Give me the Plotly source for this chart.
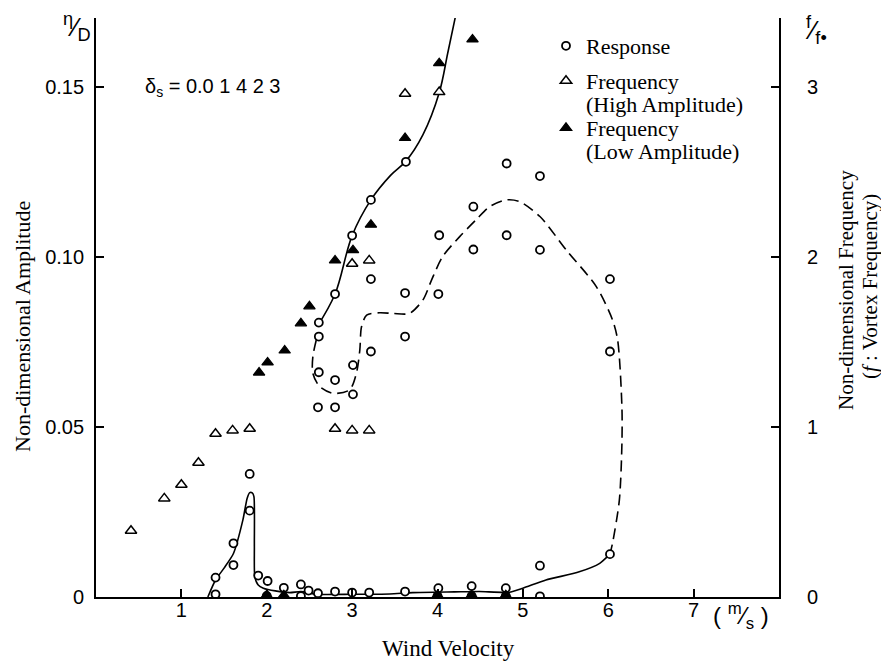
import plotly.graph_objects as go

# ---------------- data ----------------
# Response (left axis, eta/D)
resp_x = [1.40, 1.40, 1.61, 1.61, 1.80, 1.80, 1.90, 2.01, 2.20, 2.40, 2.49, 2.60, 2.80, 3.00, 3.20,
          2.60, 2.80, 2.61, 2.80, 3.01, 3.01, 3.22, 2.61, 2.61, 2.80, 3.00, 3.22, 3.22,
          3.63, 4.81, 5.20, 4.42, 4.02, 4.42, 4.81, 5.20, 6.02, 3.62, 4.01, 3.62, 6.02,
          3.62, 4.01, 4.40, 4.80, 5.20, 6.02,
          2.00, 2.40, 4.00, 4.40, 4.80, 5.20]
resp_y = [0.0008, 0.0057, 0.0094, 0.0158, 0.0254, 0.0362, 0.0063, 0.0047, 0.0027, 0.0037, 0.0019, 0.0011, 0.0016, 0.0013, 0.0013,
          0.0558, 0.0558, 0.0661, 0.0638, 0.0682, 0.0596, 0.0722, 0.0766, 0.0807, 0.0891, 0.1063, 0.0935, 0.1168,
          0.1280, 0.1275, 0.1238, 0.1148, 0.1064, 0.1022, 0.1064, 0.1021, 0.0935, 0.0894, 0.0891, 0.0766, 0.0722,
          0.0016, 0.0026, 0.0032, 0.0026, 0.0092, 0.0126,
          0.0003, 0.0003, 0.0003, 0.0003, 0.0003, 0.0002]

# Frequency, high amplitude (right axis, f/f0)
high_x = [0.41, 0.80, 1.00, 1.20, 1.40, 1.60, 1.80, 2.80, 3.00, 3.20, 3.00, 3.20, 3.62, 4.02]
high_f = [0.39, 0.58, 0.66, 0.79, 0.96, 0.98, 0.99, 0.99, 0.98, 0.98, 1.96, 1.98, 2.96, 2.97]

# Frequency, low amplitude (right axis, f/f0)
low_x = [1.91, 2.01, 2.21, 2.40, 2.50, 2.80, 3.01, 3.22, 3.62, 4.02, 4.41,
         2.00, 2.20, 4.00, 4.40, 4.80]
low_f = [1.32, 1.38, 1.45, 1.61, 1.71, 1.98, 2.04, 2.19, 2.70, 3.14, 3.28,
         0.01, 0.01, 0.01, 0.01, 0.01]

# Solid faired curve, lower response branch
lowcurve_x = [1.31, 1.40, 1.50, 1.61, 1.72, 1.77, 1.80, 1.83, 1.85, 1.855, 1.86, 1.90, 1.96, 2.10, 2.27,
              2.40, 2.58, 3.00, 3.44, 3.71, 4.20, 4.49, 4.84, 5.00, 5.27, 5.66, 5.90, 6.02]
lowcurve_y = [0.0000, 0.0050, 0.0085, 0.0128, 0.0226, 0.0290, 0.0307, 0.0306, 0.0295, 0.0150, 0.0060, 0.0035, 0.0026, 0.0018, 0.0013,
              0.0016, 0.0008, 0.0008, 0.0009, 0.0013, 0.0015, 0.0016, 0.0014, 0.0026, 0.0050, 0.0074, 0.0099, 0.0126]

# Solid faired curve, upper response branch
upcurve_x = [2.59, 2.80, 3.00, 3.22, 3.45, 3.63, 3.83, 4.02, 4.12, 4.21]
upcurve_y = [0.0795, 0.0891, 0.1063, 0.1168, 0.1240, 0.1282, 0.1360, 0.1483, 0.1600, 0.1707]

# Dashed faired curve (unstable / hysteresis loop)
dash_x = [2.58, 2.54, 2.54, 2.62, 2.78, 2.97, 3.05, 3.09, 3.11, 3.17, 3.32, 3.48, 3.67, 3.83, 3.93, 4.06,
          4.26, 4.45, 4.61, 4.81, 4.96, 5.20, 5.51, 5.86, 6.05, 6.11, 6.16, 6.16, 6.13, 6.05, 6.02]
dash_y = [0.0756, 0.0707, 0.0658, 0.0619, 0.0599, 0.0609, 0.0658, 0.0726, 0.0795, 0.0829, 0.0836, 0.0834, 0.0834, 0.0874, 0.0932, 0.1001,
          0.1060, 0.1109, 0.1148, 0.1168, 0.1163, 0.1119, 0.1020, 0.0913, 0.0815, 0.0756, 0.0560, 0.0450, 0.0285, 0.0158, 0.0126]

x_ticks = [1, 2, 3, 4, 5, 6, 7]
y_ticks = [0, 0.05, 0.10, 0.15]
y_ticktext = ["0", "0.05", "0.10", "0.15"]
f_ticks = [0, 1, 2, 3]

# ---------------- figure ----------------
SERIF = "Liberation Serif, Times New Roman, serif"
SANS = "Liberation Sans, Arial, sans-serif"
OFF = 8                      # page body margin of the browser
W, H = 889 - OFF, 662 - OFF  # figure size
# target plot area in window pixels: x 96..779, y 18..597
ML, MT = 96 - OFF, 18 - OFF
MR = W - (779 - OFF)
MB = H - (597 - OFF)
PW, PH = W - ML - MR, H - MT - MB


def px(xp):   # window pixel -> paper x
    return (xp - OFF - ML) / PW


def py(yp):   # window pixel -> paper y
    return (H - MB - (yp - OFF)) / PH


fig = go.Figure()

line_style = dict(color="black", width=1.6)
fig.add_trace(go.Scatter(x=lowcurve_x, y=lowcurve_y, mode="lines", line=dict(**line_style, shape="spline", smoothing=0.6),
                         showlegend=False, hoverinfo="skip"))
fig.add_trace(go.Scatter(x=upcurve_x, y=upcurve_y, mode="lines", line=dict(**line_style, shape="spline", smoothing=1.0),
                         showlegend=False, hoverinfo="skip"))
fig.add_trace(go.Scatter(x=dash_x, y=dash_y, mode="lines",
                         line=dict(color="black", width=1.6, dash="11px,6px", shape="spline", smoothing=0.8),
                         showlegend=False, hoverinfo="skip"))

fig.add_trace(go.Scatter(x=resp_x, y=resp_y, mode="markers", name="Response", legend="legend",
                         marker=dict(symbol="circle", size=8, color="white", line=dict(color="black", width=1.8))))
fig.add_trace(go.Scatter(x=high_x, y=high_f, mode="markers", name="Frequency", yaxis="y2", legend="legend2",
                         marker=dict(symbol="triangle-up", size=10, color="white", line=dict(color="black", width=1.5))))
fig.add_trace(go.Scatter(x=low_x, y=low_f, mode="markers", name="Frequency", yaxis="y2", legend="legend3",
                         marker=dict(symbol="triangle-up", size=10, color="black", line=dict(color="black", width=1.2))))

axis_common = dict(showline=True, linecolor="black", linewidth=1.8, ticks="inside", ticklen=8, tickwidth=1.6,
                   tickcolor="black", showgrid=False, zeroline=False, tickfont=dict(family=SANS, size=20, color="black"))

LEG_X = 546
leg_common = dict(xanchor="left", yanchor="middle", bgcolor="rgba(0,0,0,0)",
                  font=dict(family=SERIF, size=22, color="black"))

fig.update_layout(
    width=W, height=H,
    margin=dict(l=ML, r=MR, t=MT, b=MB),
    paper_bgcolor="white", plot_bgcolor="white",
    font=dict(family=SERIF, color="black"),
    xaxis=dict(range=[0, 8], tickvals=x_ticks, ticktext=[str(v) for v in x_ticks], ticklabelstandoff=-6, **axis_common),
    yaxis=dict(range=[0, PH / 3400], tickvals=y_ticks, ticktext=y_ticktext, ticklabelstandoff=6, **axis_common),
    yaxis2=dict(range=[0, PH / 170], overlaying="y", side="right", tickvals=f_ticks,
                ticktext=[str(v) for v in f_ticks], ticklabelstandoff=22, **axis_common),
    legend=dict(x=px(LEG_X), y=py(46), **leg_common),
    legend2=dict(x=px(LEG_X), y=py(81), **leg_common),
    legend3=dict(x=px(LEG_X), y=py(128), **leg_common),
    showlegend=True,
)

annos = [
    dict(text="(High Amplitude)", x=px(584), y=py(104), xanchor="left", font=dict(family=SERIF, size=22)),
    dict(text="(Low Amplitude)", x=px(584), y=py(151), xanchor="left", font=dict(family=SERIF, size=22)),
    dict(text="Non-dimensional Amplitude", x=px(22), y=py(327), textangle=-90, font=dict(family=SERIF, size=22)),
    dict(text="Non-dimensional Frequency", x=px(846), y=py(290), textangle=-90, font=dict(family=SERIF, size=21)),
    dict(text="(<i>f</i> : Vortex Frequency)", x=px(870), y=py(287), textangle=-90, font=dict(family=SERIF, size=21)),
    dict(text="Wind Velocity", x=px(448), y=py(648), font=dict(family=SERIF, size=23)),
    dict(text="<sup>η</sup>⁄<sub>D</sub>", x=px(77), y=py(27), font=dict(family=SANS, size=26)),
    dict(text="<sup>f</sup>⁄<sub>f•</sub>", x=px(816), y=py(30), font=dict(family=SANS, size=26)),
    dict(text="( <sup>m</sup>⁄<sub>s</sub> )", x=px(741), y=py(616), font=dict(family=SANS, size=24)),
    dict(text="δ<sub>s</sub> = 0.0 1 4 2 3", x=px(212), y=py(88), font=dict(family=SANS, size=20)),
]
for a in annos:
    a.setdefault("xanchor", "center")
    a.update(xref="paper", yref="paper", showarrow=False, yanchor="middle")
    a["font"]["color"] = "black"
fig.update_layout(annotations=annos)

fig.write_html("out.html")
